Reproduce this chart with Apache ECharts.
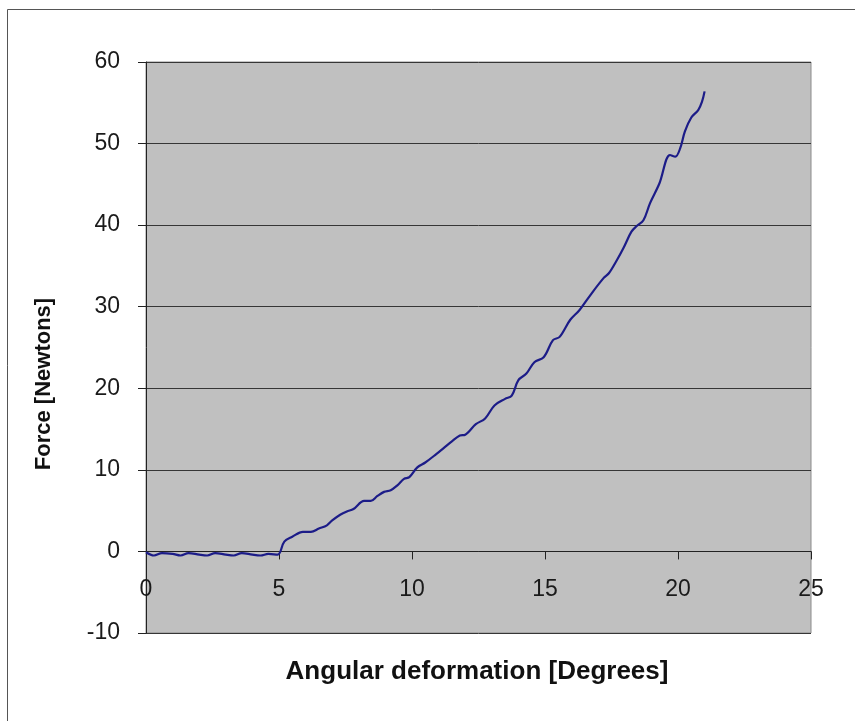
<!DOCTYPE html>
<html>
<head>
<meta charset="utf-8">
<script src="https://cdn.jsdelivr.net/npm/echarts@6/dist/echarts.min.js"></script>
<style>
  html, body { margin: 0; padding: 0; background: #ffffff; }
  #chart { width: 855px; height: 721px; }
</style>
</head>
<body>
<div id="chart"></div>
<script>
// Angular deformation (degrees) measured against force (newtons)
const angleDeg = [
  0, 0.3, 0.6, 1.0, 1.3, 1.6, 2.0, 2.3, 2.6, 3.0, 3.3, 3.6, 4.0, 4.3, 4.6, 4.95,
  5.2, 5.5, 5.9, 6.2, 6.5, 6.8, 7.0, 7.3, 7.55, 7.8, 8.2, 8.45, 8.7, 8.95, 9.2,
  9.45, 9.7, 9.9, 10.2, 10.5, 10.9, 11.2, 11.5, 11.8, 12.0, 12.4, 12.75, 13.1,
  13.5, 13.75, 14.0, 14.3, 14.6, 14.95, 15.3, 15.55, 15.95, 16.3, 16.7, 17.2,
  17.4, 17.7, 17.95, 18.25, 18.45, 18.7, 18.95, 19.3, 19.7, 19.9, 20.08, 20.26,
  20.5, 20.76, 20.9, 21.0
];
const forceN = [
  -0.1, -0.5, -0.2, -0.3, -0.5, -0.2, -0.4, -0.5, -0.2, -0.4, -0.5, -0.2, -0.4, -0.5, -0.3, -0.4,
  1.2, 1.8, 2.4, 2.4, 2.8, 3.2, 3.8, 4.5, 4.9, 5.2, 6.2, 6.2, 6.8, 7.3, 7.5,
  8.1, 8.9, 9.1, 10.3, 10.9, 11.9, 12.7, 13.5, 14.2, 14.3, 15.6, 16.3, 17.9,
  18.7, 19.1, 21.0, 21.8, 23.2, 23.8, 25.9, 26.3, 28.4, 29.6, 31.4, 33.5,
  34.1, 35.7, 37.2, 39.2, 39.9, 40.6, 42.7, 45.1, 48.6, 48.4, 49.4, 51.5,
  53.2, 54.1, 55.1, 56.4
];

const xAxisTitle = 'Angular deformation [Degrees]';
const yAxisTitle = 'Force [Newtons]';

const points = angleDeg.map((a, i) => [a, forceN[i]]);

const chart = echarts.init(document.getElementById('chart'), null, { renderer: 'canvas' });
const font = 'Arial, "Liberation Sans", sans-serif';

chart.setOption({
  animation: false,
  backgroundColor: '#ffffff',
  grid: {
    left: 146, top: 62, width: 665, height: 571,
    show: true,
    backgroundColor: '#c0c0c0',
    borderColor: '#8c8c8c',
    borderWidth: 1
  },
  xAxis: {
    type: 'value',
    min: 0, max: 25, interval: 5,
    axisLine: { onZero: true, lineStyle: { color: '#222', width: 1 } },
    axisTick: { show: true, length: 8, inside: false, lineStyle: { color: '#222' } },
    // labels sit just below the zero line, inside the plot area
    axisLabel: { color: '#1a1a1a', fontSize: 23, fontFamily: font, margin: -55 },
    splitLine: { show: false }
  },
  yAxis: {
    type: 'value',
    min: -10, max: 60, interval: 10,
    axisLine: { show: true, onZero: false, lineStyle: { color: '#222', width: 1 } },
    axisTick: { show: true, length: 8, lineStyle: { color: '#222' } },
    axisLabel: { color: '#1a1a1a', fontSize: 23, fontFamily: font, margin: 26 },
    splitLine: { show: true, lineStyle: { color: '#363636', width: 1 } }
  },
  series: [{
    type: 'line',
    data: points,
    showSymbol: false,
    smooth: 0.35,
    lineStyle: { color: '#1c1c88', width: 2.2 }
  }],
  graphic: [
    {
      type: 'polyline',
      silent: true,
      shape: { points: [[7.5, 721], [7.5, 9.5], [855, 9.5]] },
      style: { stroke: '#555', lineWidth: 1, fill: null }
    },
    {
      type: 'text',
      x: 477, y: 672,
      style: {
        text: xAxisTitle, font: 'bold 26px ' + font, fill: '#111',
        textAlign: 'center', textVerticalAlign: 'middle'
      }
    },
    {
      type: 'text',
      x: 44, y: 384,
      rotation: Math.PI / 2,
      style: {
        text: yAxisTitle, font: 'bold 22px ' + font, fill: '#111',
        textAlign: 'center', textVerticalAlign: 'middle'
      }
    }
  ]
});
</script>
</body>
</html>
